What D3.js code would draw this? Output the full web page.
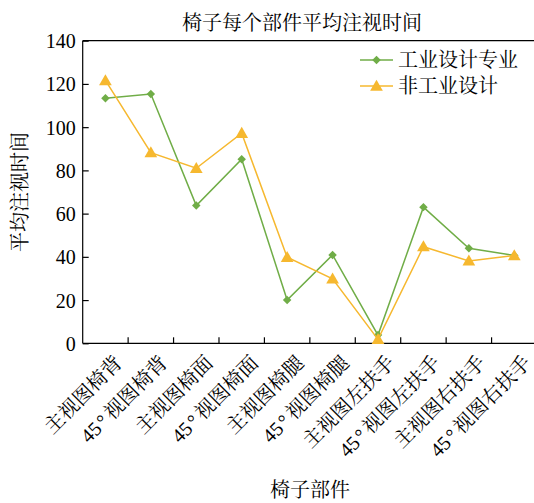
<!DOCTYPE html>
<html>
<head>
<meta charset="utf-8">
<script src="https://cdn.jsdelivr.net/npm/d3@7"></script>
<style>
  html, body { margin: 0; padding: 0; background: #fff; }
  svg text { font-family: "Times New Roman", "Liberation Serif", "Noto Serif CJK SC", "Noto Sans CJK SC", serif; fill: #000; }
</style>
</head>
<body>
<svg id="chart" width="534" height="503"></svg>
<script>
// Chair parts (x-axis categories)
const parts = ["主视图椅背", "45°视图椅背", "主视图椅面", "45°视图椅面", "主视图椅腿",
               "45°视图椅腿", "主视图左扶手", "45°视图左扶手", "主视图右扶手", "45°视图右扶手"];
// Average fixation time per part
const designMajor = [113.4, 115.3, 63.7, 85.2, 20.0, 40.9, 3.8, 63.0, 44.0, 40.6];
const nonDesign   = [121.6, 88.2, 81.0, 97.2, 39.8, 29.8, 1.8, 44.7, 38.1, 40.6];
const yTicks = [0, 20, 40, 60, 80, 100, 120, 140];
const seriesNames = ["工业设计专业", "非工业设计"];
const colors = ["#70AD47", "#F6B82F"];

const svg = d3.select("#chart");
const plotL = 82.7, plotR = 537, plotT = 40.7, plotB = 343.3;

const x = d3.scaleBand().domain(parts).range([plotL, plotR]).paddingInner(0).paddingOuter(0);
const y = d3.scaleLinear().domain([0, 140]).range([plotB, plotT]);

// Title
svg.append("text").attr("x", 302).attr("y", 30).attr("text-anchor", "middle")
  .style("font-size", "20px").text("椅子每个部件平均注视时间");

// Frame (top edge; the right edge falls outside the canvas)
svg.append("line").attr("x1", plotL).attr("x2", plotR + 5).attr("y1", plotT).attr("y2", plotT)
  .attr("stroke", "#000").attr("stroke-width", 1.2);

// Y axis with inward ticks
const yAxis = svg.append("g").attr("transform", `translate(${plotL},0)`)
  .call(d3.axisRight(y).tickValues(yTicks).tickSize(6).tickFormat(d3.format("d")));
yAxis.select(".domain").attr("stroke", "#000").attr("stroke-width", 1.2).attr("d", `M0,${plotT}V${plotB}`);
yAxis.selectAll(".tick line").attr("stroke", "#000").attr("stroke-width", 1.2);
yAxis.selectAll(".tick text").attr("x", -7).attr("text-anchor", "end").attr("dy", "0.35em")
  .style("font-size", "20px");

// X axis: baseline plus inward ticks at category boundaries
svg.append("line").attr("x1", plotL).attr("x2", plotR + 5).attr("y1", plotB).attr("y2", plotB)
  .attr("stroke", "#000").attr("stroke-width", 1.2);
svg.append("g").selectAll("line").data(parts.slice(1)).join("line")
  .attr("x1", d => x(d)).attr("x2", d => x(d))
  .attr("y1", plotB).attr("y2", plotB - 6)
  .attr("stroke", "#000").attr("stroke-width", 1.2);

// Rotated category labels; the degree sign gets a little extra room
svg.append("g").selectAll("text").data(parts).join("text")
  .attr("text-anchor", "end")
  .attr("transform", d => `translate(${x(d) + x.bandwidth() / 2 + 8},${plotB + 11}) rotate(-45)`)
  .attr("dy", "0.7em")
  .style("font-size", "20px")
  .each(function (d) {
    const t = d3.select(this);
    const bits = d.split("°");
    if (bits.length === 2) {
      t.append("tspan").text(bits[0]);
      t.append("tspan").attr("dx", 2).text("°");
      t.append("tspan").attr("dx", 3).text(bits[1]);
    } else {
      t.text(d);
    }
  });

// Axis titles
svg.append("text").attr("x", 310).attr("y", 497).attr("text-anchor", "middle")
  .style("font-size", "20px").text("椅子部件");
svg.append("text").attr("transform", "translate(27,192) rotate(-90)").attr("text-anchor", "middle")
  .style("font-size", "20px").text("平均注视时间");

const cx = d => x(d) + x.bandwidth() / 2;
const line = d3.line().x(d => cx(d.part)).y(d => y(d.v));
const series = [designMajor, nonDesign].map((vals, i) => ({
  name: seriesNames[i], color: colors[i],
  points: vals.map((v, j) => ({ part: parts[j], v }))
}));

const symbols = [d3.symbol().type(d3.symbolSquare).size(36), d3.symbol().type(d3.symbolTriangle).size(70)];

series.forEach((s, i) => {
  svg.append("path").datum(s.points).attr("d", line)
    .attr("fill", "none").attr("stroke", s.color).attr("stroke-width", 1.5);
  svg.append("g").selectAll("path").data(s.points).join("path")
    .attr("transform", d => i === 0
      ? `translate(${cx(d.part)},${y(d.v)}) rotate(45)`
      : `translate(${cx(d.part)},${y(d.v) + 1})`)
    .attr("d", symbols[i])
    .attr("fill", s.color);
});

// Legend
const legend = svg.append("g");
series.forEach((s, i) => {
  const ly = 60 + i * 26;
  legend.append("line").attr("x1", 360).attr("x2", 393).attr("y1", ly).attr("y2", ly)
    .attr("stroke", s.color).attr("stroke-width", 1.5);
  legend.append("path")
    .attr("transform", i === 0 ? `translate(376.5,${ly}) rotate(45)` : `translate(376.5,${ly + 1})`)
    .attr("d", symbols[i]).attr("fill", s.color);
  legend.append("text").attr("x", 398).attr("y", ly).attr("dy", "0.35em")
    .style("font-size", "20px").text(s.name);
});
</script>
</body>
</html>
